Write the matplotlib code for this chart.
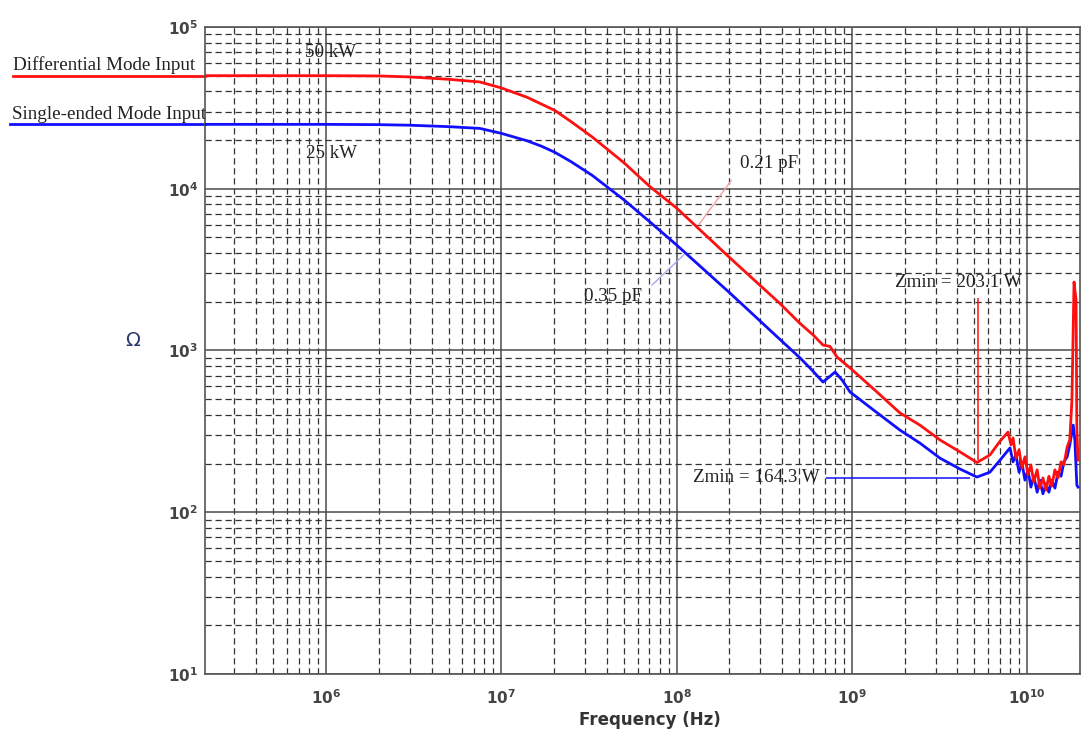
import matplotlib
matplotlib.use('Agg')
import matplotlib.pyplot as plt
from matplotlib.ticker import LogLocator
from matplotlib.transforms import blended_transform_factory

# impedance vs frequency
freq_diff = [2.04e5, 1e6, 2e6, 3e6, 5e6, 7.55e6, 1e7, 1.4e7, 1.7e7, 2.02e7, 2.5e7,
             3.3e7, 5e7, 7.05e7,
             1e8, 2.02e8, 3.89e8, 5.06e8, 6.0e8, 6.84e8, 7.5e8, 8.22e8, 9.76e8,
             1.35e9, 1.88e9, 2.44e9, 3.18e9, 4.14e9, 5.17e9, 6.13e9, 7.0e9, 7.77e9,
             8.09e9, 8.30e9, 8.63e9, 8.98e9, 9.34e9, 9.71e9, 1.01e10, 1.05e10,
             1.09e10, 1.14e10, 1.18e10, 1.23e10, 1.28e10, 1.33e10, 1.38e10,
             1.44e10, 1.50e10, 1.56e10, 1.62e10, 1.69e10, 1.75e10, 1.80e10,
             1.85e10, 1.90e10, 1.92e10, 1.95e10]
z_diff = [50000, 50000, 49800, 49100, 47500, 45700, 42000, 36800, 33300, 30500, 26000,
          20900, 14500, 10300,
          7600, 3730, 1950, 1470, 1250, 1081, 1060, 912, 780,
          570, 411, 346, 280, 236, 203, 226, 275, 313,
          261, 288, 216, 243, 188, 220, 170, 196,
          154, 183, 141, 163, 137, 167, 145,
          183, 163, 205, 196, 253, 280, 494,
          2650, 2050, 323, 210]

freq_single = [2.04e5, 1e6, 2e6, 3e6, 5e6, 7.55e6, 1e7, 1.4e7, 1.7e7, 2.02e7, 2.5e7,
               3.3e7, 5e7, 7.05e7,
               1e8, 2.02e8, 3.89e8, 5.06e8, 5.92e8, 6.84e8, 8.02e8, 8.79e8, 9.76e8,
               1.35e9, 1.88e9, 2.44e9, 3.18e9, 4.14e9, 5.17e9, 6.13e9, 7.0e9, 7.98e9,
               8.30e9, 8.63e9, 8.98e9, 9.34e9, 9.71e9, 1.01e10, 1.05e10, 1.09e10,
               1.14e10, 1.18e10, 1.23e10, 1.28e10, 1.33e10, 1.38e10, 1.44e10,
               1.50e10, 1.56e10, 1.62e10, 1.69e10, 1.75e10, 1.83e10, 1.87e10,
               1.92e10, 1.95e10]
z_single = [25000, 25000, 24900, 24700, 24200, 23600, 22000, 19800, 18300, 16800, 14700,
            12100, 8550, 6230,
            4490, 2260, 1170, 900, 757, 638, 736, 657, 554,
            423, 322, 268, 216, 185, 165, 177, 210, 250,
            205, 226, 177, 201, 158, 183, 143, 167,
            133, 158, 130, 150, 133, 158, 141,
            177, 167, 205, 220, 261, 346, 280,
            147, 143]

RED = '#ff1010'
BLUE = '#1010ff'
SERIF = ['Liberation Serif', 'DejaVu Serif']
NARROW = ['Liberation Sans Narrow', 'DejaVu Sans']
FS = 13.7

fig = plt.figure(figsize=(10.89, 7.41), dpi=100)
ax = fig.add_axes([0.1882, 0.0904, 0.8035, 0.8732])

ax.plot(freq_diff, z_diff, color=RED, lw=2.0, zorder=5)
ax.plot(freq_single, z_single, color=BLUE, lw=2.0, zorder=4)

ax.set_xscale('log')
ax.set_yscale('log')
ax.set_xlim(2.04e5, 2.0e10)
ax.set_ylim(10, 1e5)

ax.xaxis.set_major_locator(LogLocator(base=10, numticks=20))
ax.yaxis.set_major_locator(LogLocator(base=10, numticks=20))
ax.xaxis.set_minor_locator(LogLocator(base=10, subs=range(2, 10), numticks=50))
ax.yaxis.set_minor_locator(LogLocator(base=10, subs=range(2, 10), numticks=50))

ax.grid(True, which='major', color='#4a4a4a', lw=1.1, ls='-')
ax.grid(True, which='minor', color='#333333', lw=0.9, ls=(0, (5, 3)))
ax.set_axisbelow(True)
ax.tick_params(which='both', length=0)
ax.tick_params(axis='x', pad=10, labelsize=11, labelcolor='#444444')
ax.tick_params(axis='y', pad=5, labelsize=11, labelcolor='#444444')
ax.xaxis.set_minor_formatter(plt.NullFormatter())
ax.yaxis.set_minor_formatter(plt.NullFormatter())
for lab in ax.get_xticklabels() + ax.get_yticklabels():
    lab.set_family(NARROW)
    lab.set_fontweight('bold')
for s in ax.spines.values():
    s.set_color('#555555')
    s.set_linewidth(1.2)

# label lines sticking out to the left of the axes
tr = blended_transform_factory(fig.transFigure, ax.transData)
ax.plot([0.012, 0.1882], [z_diff[0], z_diff[0]], color=RED, lw=2.0,
        transform=tr, clip_on=False)
ax.plot([0.009, 0.1882], [z_single[0], z_single[0]], color=BLUE, lw=2.0,
        transform=tr, clip_on=False)
fig.text(0.012, 0.906, 'Differential Mode Input', family=SERIF, fontsize=FS,
         color='#222222', va='baseline')
fig.text(0.011, 0.839, 'Single-ended Mode Input', family=SERIF, fontsize=FS,
         color='#222222', va='baseline')

# annotations
ax.text(7.59e5, 70000, '50 kW', family=SERIF, fontsize=FS, va='center',
        color='#222222')
ax.text(7.7e5, 16600, '25 kW', family=SERIF, fontsize=FS, va='center',
        color='#222222')

ax.annotate('', xy=(1.31e8, 5800), xytext=(2.10e8, 11650),
            arrowprops=dict(arrowstyle='-', color='#f2a0a0', lw=1))
ax.text(2.30e8, 14400, '0.21 pF', family=SERIF, fontsize=FS, va='center',
        color='#222222')
ax.annotate('', xy=(1.13e8, 4010), xytext=(7.05e7, 2470),
            arrowprops=dict(arrowstyle='-', color='#a8a8f0', lw=1))
ax.text(6.35e7, 2170, '0.35 pF', family=SERIF, fontsize=FS, va='center',
        ha='right', color='#222222')

ax.vlines(5.24e9, 210, 2115, color=RED, lw=1.1, zorder=6)
ax.text(1.76e9, 2650, 'Zmin = 203.1 W', family=SERIF, fontsize=FS,
        va='center', color='#222222')
ax.hlines(163, 7.11e8, 4.72e9, color=BLUE, lw=1.1, zorder=6)
ax.text(1.24e8, 165, 'Zmin = 164.3 W', family=SERIF, fontsize=FS,
        va='center', color='#222222')

fig.text(133 / 1089, 1 - 340 / 741, 'Ω', fontsize=14, color='#2a3a6a',
         ha='center', va='center')
fig.text(650 / 1089, 0.028, 'Frequency (Hz)', family=NARROW, fontsize=12,
         fontweight='bold', color='#333333', ha='center', va='center')

fig.savefig('out.png', dpi=100)
plt.close(fig)
